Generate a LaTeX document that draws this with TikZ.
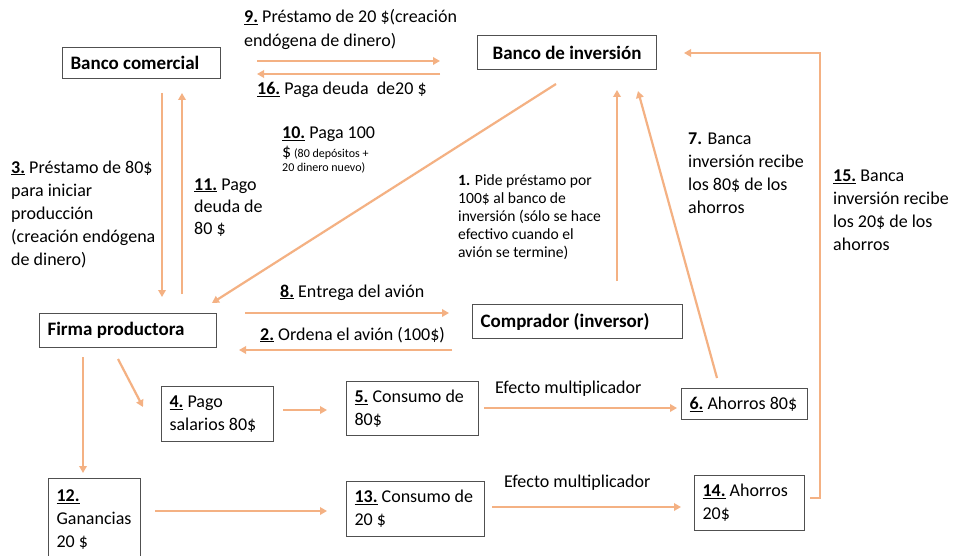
\documentclass[tikz,border=0pt]{standalone}
\usepackage{fontspec}
\setmainfont{Carlito}
\usetikzlibrary{arrows.meta}
\definecolor{arrc}{RGB}{244,177,131}
\definecolor{boxc}{RGB}{80,80,80}
\newcommand\fsreg{\fontsize{18}{23}\selectfont}
\newcommand\fsbox{\fontsize{19}{23}\selectfont\bfseries}
\newcommand\fsone{\fontsize{15.6}{17.8}\selectfont}
\newcommand\fssm{\fontsize{12}{14}\selectfont}
\newcommand\unum[1]{\underline{\textbf{#1}}}
\tikzset{
  arr/.style={draw=arrc, line width=2.2pt, -{Triangle[length=7pt,width=7.5pt]}},
  box/.style={draw=boxc, line width=1.1pt, anchor=north west, inner xsep=8pt, inner ysep=0pt, align=flush left, font=\fsreg},
  hbox/.style={box, font=\fsbox},
  lbl/.style={anchor=base west, inner sep=0pt, align=flush left, font=\fsreg},
}
\begin{document}
\begin{tikzpicture}[x=1pt,y=-1pt]
\clip (0,0) rectangle (955,556);
\fill[white] (0,0) rectangle (955,556);
% boxes
\node[hbox, minimum width=158, minimum height=31, text width=142] (BC) at (62,47) {Banco~comercial};
\node[hbox, minimum width=179, minimum height=34, text width=163, align=flush center] (BI) at (477,35) {Banco~de~inversión};
\node[hbox, minimum width=177, minimum height=34, text width=161] (FP) at (39,313) {Firma~productora};
\node[hbox, minimum width=210, minimum height=34, text width=194] (CI) at (472,304) {Comprador~(inversor)};
\node[box, minimum width=112, minimum height=55, text width=96] (B4) at (161,386) {\unum{4.}~Pago\\salarios~80\$};
\node[box, minimum width=132, minimum height=54, text width=116] (B5) at (346,381) {\unum{5.}~Consumo~de\\80\$};
\node[box, minimum width=126, minimum height=31, text width=110] (B6) at (681,388) {\unum{6.}~Ahorros~80\$};
\node[box, minimum width=92, minimum height=82, text width=76] (B12) at (48,478) {\unum{12.}\\Ganancias\\20~\$};
\node[box, minimum width=138, minimum height=55, text width=122] (B13) at (346,481) {\unum{13.}~Consumo~de\\20~\$};
\node[box, minimum width=110, minimum height=55, text width=94] (B14) at (694,475) {\unum{14.}~Ahorros\\20\$};
% labels (base anchor = baseline of the last line)
\node[lbl, font=\fontsize{18}{24}\selectfont] (L9) at (244,47) {\unum{9.} Préstamo de 20 \$(creación\\endógena de dinero)};
\node[lbl] (L16) at (257,95) {\unum{16.} Paga deuda\ \ de20 \$};
\node[lbl] (L3) at (11,265) {\unum{3.} Préstamo de 80\$\\para iniciar\\producción\\(creación endógena\\de dinero)};
\node[lbl, font=\fontsize{18}{22}\selectfont] (L11) at (194,234) {\unum{11.} Pago\\deuda de\\80 \$};
\node[lbl] (L10) at (282,139) {\unum{10.} Paga 100};
\node[lbl, font=\fssm] (L10b) at (282,172) {{\fsreg\$} (80 depósitos +\\20 dinero nuevo)};
\node[lbl, font=\fsone] (L1) at (458,257) {\textbf{1.} Pide préstamo por\\100\$ al banco de\\inversión (sólo se hace\\efectivo cuando el\\avión se termine)};
\node[lbl, font=\fontsize{18}{22.7}\selectfont] (L7) at (688,213) {\textbf{7.} Banca\\inversión recibe\\los 80\$ de los\\ahorros};
\node[lbl, font=\fontsize{18}{22.7}\selectfont] (L15) at (833,250) {\unum{15.} Banca\\inversión recibe\\los 20\$ de los\\ahorros};
\node[lbl] (L8) at (280,297) {\unum{8.} Entrega del avión};
\node[lbl] (L2) at (260,340) {\unum{2.} Ordena el avión (100\$)};
\node[lbl] (EM1) at (495,393) {Efecto multiplicador};
\node[lbl] (EM2) at (504,487) {Efecto multiplicador};
% connector end points
\coordinate (a9s) at (257,61);  \coordinate (a9e) at (440,61);
\coordinate (a16s) at (440,74); \coordinate (a16e) at (257,74);
\coordinate (a3s) at (162,93);  \coordinate (a3e) at (162,297);
\coordinate (a11s) at (182,294);\coordinate (a11e) at (182,93);
\coordinate (a10s) at (556,84); \coordinate (a10e) at (212,303);
\coordinate (a1s) at (617,281); \coordinate (a1e) at (617,90);
\coordinate (a7s) at (717,378); \coordinate (a7e) at (638,91);
\coordinate (a15s) at (810,498);\coordinate (a15c) at (820,53); \coordinate (a15e) at (684,53);
\coordinate (a8s) at (245,313); \coordinate (a8e) at (449,313);
\coordinate (a2s) at (452,350); \coordinate (a2e) at (239,350);
\coordinate (a4s) at (118,359); \coordinate (a4e) at (143,407);
\coordinate (a12s) at (83,357); \coordinate (a12e) at (83,473);
\coordinate (a45s) at (283,410);\coordinate (a45e) at (327,410);
\coordinate (a56s) at (484,408);\coordinate (a56e) at (677,408);
\coordinate (a13s) at (155,511);\coordinate (a13e) at (327,511);
\coordinate (a14s) at (492,507);\coordinate (a14e) at (681,507);
% connectors
\draw[arr] (a9s) -- (a9e);
\draw[arr] (a16s) -- (a16e);
\draw[arr] (a3s) -- (a3e);
\draw[arr] (a11s) -- (a11e);
\draw[arr] (a10s) -- (a10e);
\draw[arr] (a1s) -- (a1e);
\draw[arr] (a7s) -- (a7e);
\draw[arr] (a15s) -| (a15c) -- (a15e);
\draw[arr] (a8s) -- (a8e);
\draw[arr] (a2s) -- (a2e);
\draw[arr] (a4s) -- (a4e);
\draw[arr] (a12s) -- (a12e);
\draw[arr] (a45s) -- (a45e);
\draw[arr] (a56s) -- (a56e);
\draw[arr] (a13s) -- (a13e);
\draw[arr] (a14s) -- (a14e);
\end{tikzpicture}
\end{document}
